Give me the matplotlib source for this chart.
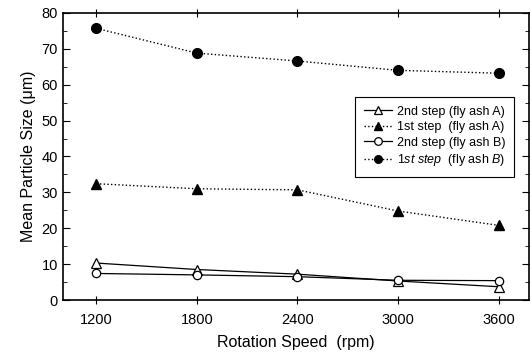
import numpy as np
import matplotlib
matplotlib.use("Agg")
import matplotlib.pyplot as plt
from matplotlib.ticker import MultipleLocator

plt.rcParams['font.family'] = ['Liberation Sans', 'DejaVu Sans']
plt.rcParams['mathtext.fontset'] = 'custom'
plt.rcParams['mathtext.rm'] = 'Liberation Sans'
plt.rcParams['mathtext.it'] = 'Liberation Sans:italic'

# rotation speed (rpm)
speed = [1200, 1800, 2400, 3000, 3600]

# mean particle size (um)
second_a = [10.3, 8.5, 7.2, 5.3, 3.7]
first_a = [32.4, 31.0, 30.7, 24.8, 20.8]
second_b = [7.4, 7.0, 6.5, 5.5, 5.4]
first_b = [75.7, 68.8, 66.6, 64.0, 63.2]

labels = ['2nd step (fly ash A)', '1st step  (fly ash A)',
          '2nd step (fly ash B)', r'$\it{1st\ step}$  (fly ash $\it{B}$)']


def main():
    fig = plt.figure(figsize=(5.32, 3.54), dpi=100)
    ax = fig.add_axes([0.118, 0.1525, 0.876, 0.811])

    ax.plot(speed, second_a, '-', color='black', lw=0.9, marker='^',
            mfc='white', mec='black', ms=6.5, mew=0.9, label=labels[0])
    ax.plot(speed, first_a, ':', color='black', lw=1.0, marker='^',
            mfc='black', mec='black', ms=7, label=labels[1])
    ax.plot(speed, second_b, '-', color='black', lw=0.9, marker='o',
            mfc='white', mec='black', ms=6, mew=0.9, label=labels[2])
    ax.plot(speed, first_b, ':', color='black', lw=1.0, marker='o',
            mfc='black', mec='black', ms=7, label=labels[3])

    ax.set_xlim(1000, 3780)
    ax.set_ylim(0, 80)
    ax.set_xticks(speed)
    ax.yaxis.set_major_locator(MultipleLocator(10))
    ax.yaxis.set_minor_locator(MultipleLocator(5))

    ax.tick_params(axis='y', which='both', direction='in', right=True,
                   labelsize=10.5)
    ax.tick_params(axis='y', which='major', length=5)
    ax.tick_params(axis='y', which='minor', length=3)
    ax.tick_params(axis='x', direction='inout', top=True, length=6,
                   labelsize=10.5, pad=6)

    for sp in ax.spines.values():
        sp.set_linewidth(1.2)

    ax.set_xlabel('Rotation Speed  (rpm)', fontsize=11.5, labelpad=6)
    ax.set_ylabel('Mean Particle Size (\u03bcm)', fontsize=11.5, labelpad=4)

    leg = ax.legend(loc='upper right', bbox_to_anchor=(0.968, 0.707),
                    fontsize=9, handlelength=2.2, handletextpad=0.4,
                    labelspacing=0.28, borderpad=0.7, fancybox=False,
                    framealpha=1, edgecolor='black', borderaxespad=0)
    leg.get_frame().set_linewidth(0.8)
    for h in leg.legend_handles:
        h.set_markersize(5.5)

    fig.savefig('out.png', dpi=100)


if __name__ == "__main__":
    main()
